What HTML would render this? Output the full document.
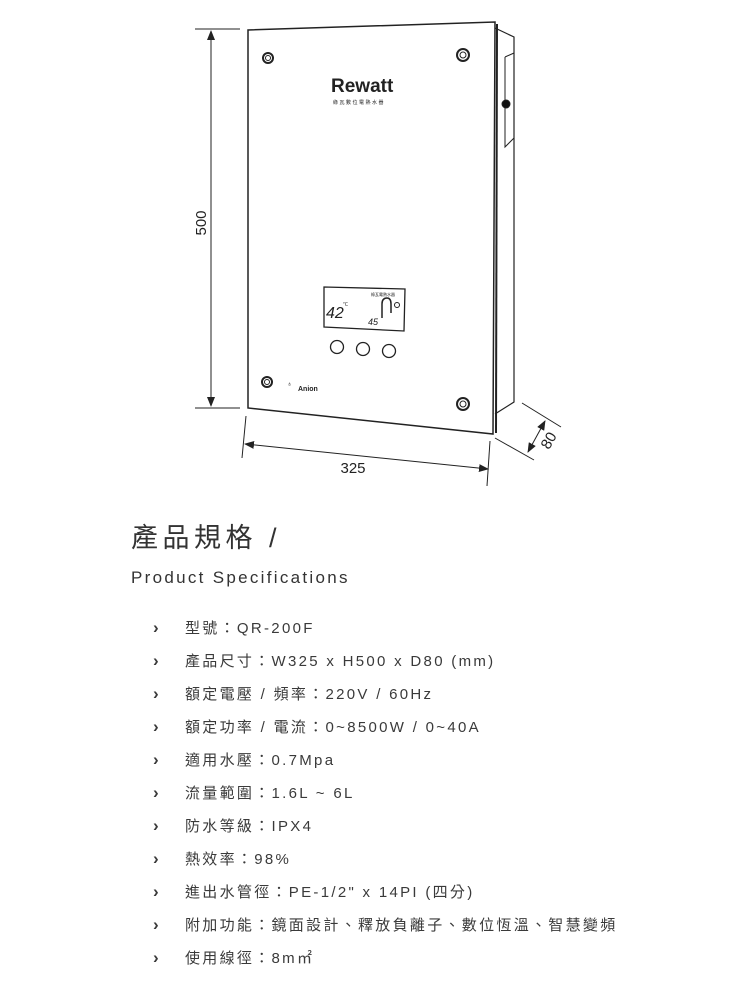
<!DOCTYPE html>
<html><head><meta charset="utf-8"><style>
body{margin:0;background:#fff;width:750px;height:1000px;position:relative;overflow:hidden;font-family:"Liberation Sans","Noto Sans CJK TC",sans-serif;color:#333}
.t{position:absolute;white-space:nowrap}
.li{position:absolute;left:153px;font-size:15px;letter-spacing:2.3px;color:#3a3a3a;white-space:nowrap}
.li b{display:inline-block;width:32px;font-weight:bold;font-size:17px;letter-spacing:0}
</style></head><body>
<svg width="750" height="500" style="position:absolute;left:0;top:0">
<defs><marker id="a" markerWidth="10" markerHeight="8" refX="9" refY="4" orient="auto-start-reverse"><path d="M0,0 L10,4 L0,8 z" fill="#222"/></marker></defs>
<g stroke="#222" fill="none" stroke-width="1">
<path d="M495,28 L514,37 L514,402 L495,414" stroke-width="1.2"/>
<path d="M505,57 L514,53 M505,57 L505,147 L514,138"/>
<circle cx="506" cy="104" r="4" fill="#111"/>
<path d="M248,30 L495,22 L493,434 L248,408 Z" stroke-width="1.5" fill="#fff"/>
<path d="M497,24 L496,433" stroke-width="2"/>
<circle cx="268" cy="58" r="5" stroke-width="2"/><circle cx="268" cy="58" r="2.5"/>
<circle cx="463" cy="55" r="6" stroke-width="2"/><circle cx="463" cy="55" r="3"/>
<circle cx="267" cy="382" r="5" stroke-width="2"/><circle cx="267" cy="382" r="2.5"/>
<circle cx="463" cy="404" r="6" stroke-width="2"/><circle cx="463" cy="404" r="3"/>
<path d="M324,287 L405,289 L404,331 L324,327 Z" stroke-width="1.3"/>
<circle cx="337" cy="347" r="6.5" stroke-width="1.3"/>
<circle cx="363" cy="349" r="6.5" stroke-width="1.3"/>
<circle cx="389" cy="351" r="6.5" stroke-width="1.3"/>
<path d="M382,318 L382,304 Q382,298 387,298 Q391,298 391,304 L391,313" stroke-width="1.5"/>
<circle cx="397" cy="305" r="2.5"/>
<line x1="195" y1="29" x2="240" y2="29"/><line x1="195" y1="408" x2="240" y2="408"/>
<line x1="211" y1="31" x2="211" y2="406" marker-start="url(#a)" marker-end="url(#a)"/>
<line x1="246" y1="416" x2="242" y2="458"/><line x1="490" y1="441" x2="487" y2="486"/>
<line x1="245" y1="444" x2="488" y2="469" marker-start="url(#a)" marker-end="url(#a)"/>
<line x1="522" y1="403" x2="561" y2="427"/><line x1="495" y1="438" x2="534" y2="460"/>
<line x1="545" y1="421" x2="528" y2="452" marker-start="url(#a)" marker-end="url(#a)"/>
</g>
<text x="331" y="92" font-family="Liberation Sans,sans-serif" font-size="19" font-weight="bold" fill="#222">Rewatt</text>
<text x="333" y="104" font-family="Noto Sans CJK TC,sans-serif" font-size="5" fill="#222" letter-spacing="1.5">綠瓦數位電熱水器</text>
<text x="326" y="318" font-family="Liberation Sans,sans-serif" font-size="16" font-style="italic" fill="#222">42</text>
<text x="343" y="306" font-size="5" fill="#222">℃</text>
<text x="368" y="325" font-family="Liberation Sans,sans-serif" font-size="9" font-style="italic" fill="#222">45</text>
<text x="371" y="296" font-family="Noto Sans CJK TC,sans-serif" font-size="4" fill="#222">綠瓦電熱水器</text>
<text x="287" y="386" font-size="7" fill="#222">♁</text>
<text x="298" y="391" font-family="Liberation Sans,sans-serif" font-size="7" font-weight="bold" fill="#222">Anion</text>
<text x="206" y="223" font-family="Liberation Sans,sans-serif" font-size="15" fill="#222" transform="rotate(-90 206 223)" text-anchor="middle">500</text>
<text x="353" y="473" font-family="Liberation Sans,sans-serif" font-size="15" fill="#222" text-anchor="middle">325</text>
<text x="553" y="443" font-family="Liberation Sans,sans-serif" font-size="15" fill="#222" text-anchor="middle" transform="rotate(-60 553 443)">80</text>
</svg>
<div class="t" style="left:131px;top:516px;font-size:27px;letter-spacing:4.5px;color:#333">產品規格 /</div>
<div class="t" style="left:131px;top:568px;font-size:17px;letter-spacing:2.3px;color:#333">Product Specifications</div>
<div class="li" style="top:617px"><b>›</b>型號：QR-200F</div>
<div class="li" style="top:650px"><b>›</b>產品尺寸：W325 x H500 x D80 (mm)</div>
<div class="li" style="top:683px"><b>›</b>額定電壓 / 頻率：220V / 60Hz</div>
<div class="li" style="top:716px"><b>›</b>額定功率 / 電流：0~8500W / 0~40A</div>
<div class="li" style="top:749px"><b>›</b>適用水壓：0.7Mpa</div>
<div class="li" style="top:782px"><b>›</b>流量範圍：1.6L ~ 6L</div>
<div class="li" style="top:815px"><b>›</b>防水等級：IPX4</div>
<div class="li" style="top:848px"><b>›</b>熱效率：98%</div>
<div class="li" style="top:881px"><b>›</b>進出水管徑：PE-1/2" x 14PI (四分)</div>
<div class="li" style="top:914px"><b>›</b>附加功能：鏡面設計、釋放負離子、數位恆溫、智慧變頻</div>
<div class="li" style="top:947px"><b>›</b>使用線徑：8m㎡</div>
</body></html>
